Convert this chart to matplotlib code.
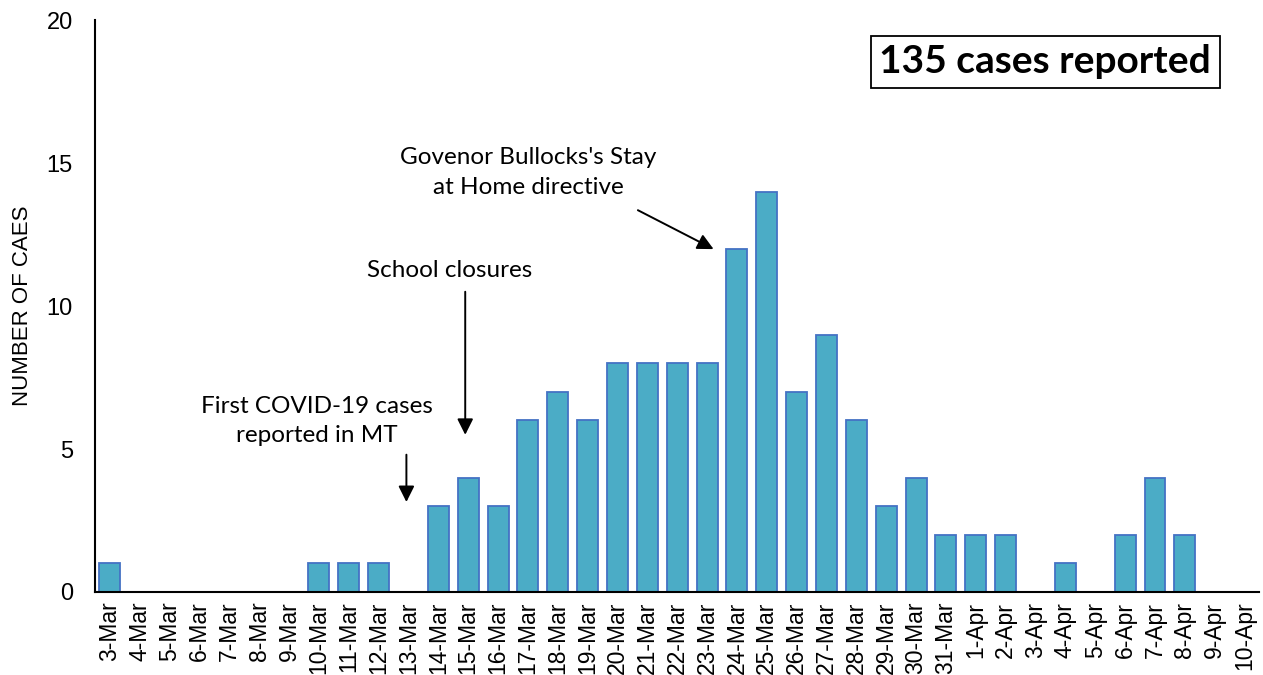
import numpy as np
import matplotlib.pyplot as plt

dates = ["3-Mar", "4-Mar", "5-Mar", "6-Mar", "7-Mar", "8-Mar", "9-Mar", "10-Mar",
         "11-Mar", "12-Mar", "13-Mar", "14-Mar", "15-Mar", "16-Mar", "17-Mar",
         "18-Mar", "19-Mar", "20-Mar", "21-Mar", "22-Mar", "23-Mar", "24-Mar",
         "25-Mar", "26-Mar", "27-Mar", "28-Mar", "29-Mar", "30-Mar", "31-Mar",
         "1-Apr", "2-Apr", "3-Apr", "4-Apr", "5-Apr", "6-Apr", "7-Apr", "8-Apr",
         "9-Apr", "10-Apr"]
cases = [1, 0, 0, 0, 0, 0, 0, 1, 1, 1, 0, 3, 4, 3, 6, 7, 6, 8, 8, 8, 8, 12,
         14, 7, 9, 6, 3, 4, 2, 2, 2, 0, 1, 0, 2, 4, 2, 0, 0]

fig = plt.figure(figsize=(12.63, 6.75), dpi=100)
ax = fig.add_axes([0.0752, 0.123, 0.922, 0.847])

x = np.arange(len(dates))
ax.bar(x, cases, width=0.7, color="#4BACC6", edgecolor="#4472C4", linewidth=1.3)

ax.set_xlim(-0.5, len(dates) - 0.5)
ax.set_ylim(0, 20)
ax.set_yticks([0, 5, 10, 15, 20])
ax.set_xticks(x)
ax.set_xticklabels(dates, rotation=90, fontsize=16.5, family="Liberation Sans")
for lab in ax.get_yticklabels():
    lab.set_fontsize(17)
    lab.set_family("Liberation Sans")
ax.tick_params(axis="x", length=0, pad=7)
ax.tick_params(axis="y", length=0, pad=16)
ax.set_ylabel("NUMBER OF CAES", fontsize=16, family="Liberation Sans")
ax.yaxis.set_label_coords(-0.053, 0.5)
for s in ["top", "right"]:
    ax.spines[s].set_visible(False)
for s in ["left", "bottom"]:
    ax.spines[s].set_linewidth(1.5)

afont = dict(fontsize=17.5, family="Lato", ha="center", va="center", linespacing=1.5)
aprops = dict(arrowstyle="-|>", color="black", lw=1.4, mutation_scale=24)

ax.annotate("", xy=(9.93, 3.05), xytext=(9.93, 4.9), arrowprops=aprops)
ax.text(6.93, 5.98, "First COVID-19 cases\nreported in MT", **afont)

ax.annotate("", xy=(11.9, 5.4), xytext=(11.9, 10.6), arrowprops=aprops)
ax.text(11.38, 11.26, "School closures", **afont)

ax.annotate("", xy=(20.3, 11.95), xytext=(17.6, 13.4), arrowprops=aprops)
ax.text(14.0, 14.68, "Govenor Bullocks's Stay\nat Home directive", **afont)

ax.text(0.816, 0.927, "135 cases reported", transform=ax.transAxes,
        fontsize=28, fontweight="bold", family="Lato", ha="center", va="center",
        bbox=dict(boxstyle="square,pad=0.22", facecolor="white", edgecolor="black", lw=1.3))

fig.savefig("out.png", dpi=100)
